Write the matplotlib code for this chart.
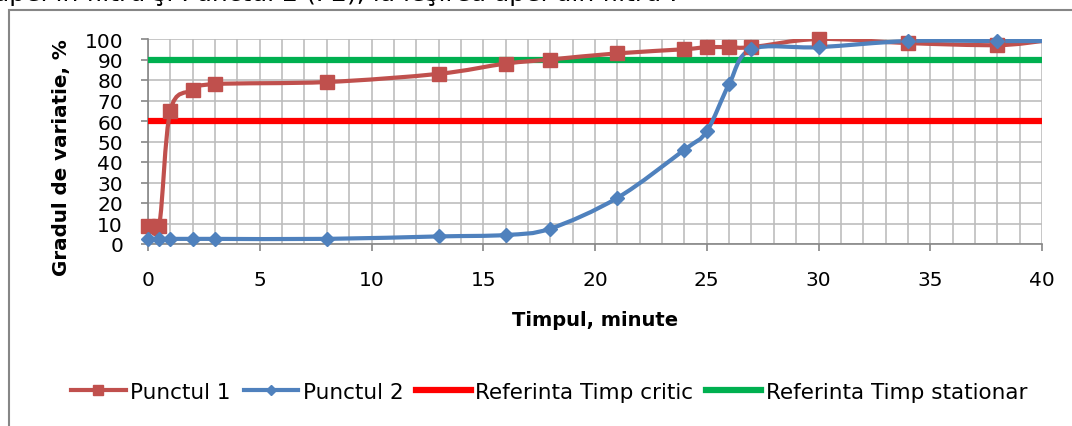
import matplotlib.pyplot as plt
import numpy as np
from matplotlib.path import Path
from matplotlib.patches import PathPatch, Rectangle
from matplotlib.lines import Line2D
from matplotlib.ticker import MultipleLocator

plt.rcParams['font.family'] = ['DejaVu Sans']

# timpul de prelevare, minute
timp = [0, 0.5, 1, 2, 3, 8, 13, 16, 18, 21, 24, 25, 26, 27, 30, 34, 38, 40]
# gradul de variatie, %
punctul_1 = [9, 9, 65, 75, 78, 79, 83, 88, 90, 93, 95, 96, 96, 96, 100, 98, 97, 99]
punctul_2 = [2.5, 2.5, 2.5, 2.5, 2.5, 2.5, 3.7, 4.4, 7.5, 22.5, 46, 55, 78, 95, 96, 99, 99, 99]

ref_timp = [0, 40]
ref_critic = [60, 60]
ref_stationar = [90, 90]

W, H = 1072, 427
c_p1 = '#c0504d'
c_p2 = '#4f81bd'
c_crit = '#ff0000'
c_stat = '#00b050'
c_axis = '#868686'


def smooth_path(x, y):
    # curba neteda (Catmull-Rom -> Bezier) prin punctele masurate
    pts = np.column_stack([x, y]).astype(float)
    n = len(pts)
    verts = [pts[0]]
    codes = [Path.MOVETO]
    for i in range(n - 1):
        a = pts[max(i - 1, 0)]
        b = pts[i]
        c = pts[i + 1]
        d = pts[min(i + 2, n - 1)]
        verts += [b + (c - a) / 6, c - (d - b) / 6, c]
        codes += [Path.CURVE4] * 3
    return Path(verts, codes)


fig = plt.figure(figsize=(W / 100, H / 100), dpi=100)
ax = fig.add_axes([148 / W, 1 - 245 / H, 894 / W, 205 / H])

# liniile de referinta
ax.plot(ref_timp, ref_critic, color=c_crit, lw=4.5, solid_capstyle='butt', zorder=3)
ax.plot(ref_timp, ref_stationar, color=c_stat, lw=4.5, solid_capstyle='butt', zorder=3)

# seriile masurate
for x, y, col, mk, ms in [(timp, punctul_1, c_p1, 's', 9.5),
                          (timp, punctul_2, c_p2, 'D', 7.5)]:
    ax.add_patch(PathPatch(smooth_path(x, y), facecolor='none', edgecolor=col,
                           lw=3, zorder=4, capstyle='round', joinstyle='round'))
    ax.plot(x, y, ls='none', marker=mk, ms=ms, color=col, mec=col,
            markevery=list(range(len(x) - 1)), zorder=5, clip_on=False)

ax.set_xlim(0, 40)
ax.set_ylim(0, 100)
ax.xaxis.set_major_locator(MultipleLocator(5))
ax.xaxis.set_minor_locator(MultipleLocator(1))
ax.yaxis.set_major_locator(MultipleLocator(10))
ax.grid(which='both', color='#bdbdbd', lw=1.2, zorder=1)
ax.set_axisbelow(True)

for s in ['top', 'right']:
    ax.spines[s].set_visible(False)
for s in ['left', 'bottom']:
    ax.spines[s].set_color(c_axis)
    ax.spines[s].set_linewidth(1.2)

ax.tick_params(which='major', direction='out', length=5, width=1.2, color=c_axis,
               labelsize=14.5, labelcolor='black')
ax.tick_params(axis='y', pad=13)
ax.tick_params(axis='x', pad=14)
ax.tick_params(which='minor', length=0)

ax.set_xlabel('Timpul, minute', fontsize=14, fontweight='bold', labelpad=15)
fig.text(61 / W, 1 - 158 / H, 'Gradul de variatie, %', rotation=90, ha='center',
         va='center', fontsize=14.3, fontweight='bold')

handles = [
    Line2D([], [], color=c_p1, lw=3, marker='s', ms=7),
    Line2D([], [], color=c_p2, lw=3, marker='D', ms=5),
    Line2D([], [], color=c_crit, lw=4.5),
    Line2D([], [], color=c_stat, lw=4.5),
]
labels = ['Punctul 1', 'Punctul 2', 'Referinta Timp critic', 'Referinta Timp stationar']
fig.legend(handles, labels, loc='center', bbox_to_anchor=(549 / W, 1 - 393 / H),
           ncol=4, frameon=False, fontsize=15.5, handlelength=2.55, handletextpad=0.2,
           columnspacing=0.6)

# chenarul graficului (continua dincolo de marginea dreapta si de jos)
fig.add_artist(Rectangle((9 / W, -0.2), 1.2, 1.2 - 11 / H, transform=fig.transFigure,
                         fill=False, edgecolor=c_axis, lw=1.5))

# textul documentului de deasupra graficului
fig.text(678 / W, 1 - 1.5 / H, 'apei în filtru şi Punctul 2 (P2), la ieşirea apei din filtru :',
         ha='right', va='baseline', fontsize=18)

fig.savefig('out.png', dpi=100)
